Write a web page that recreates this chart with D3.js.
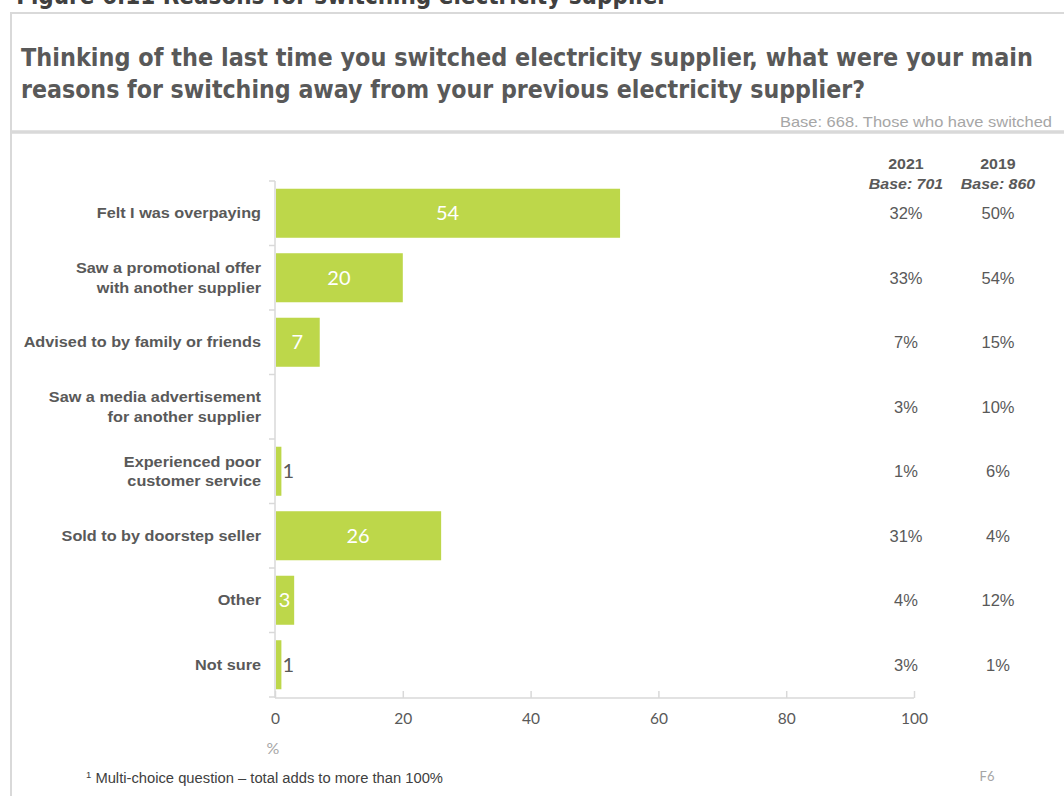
<!DOCTYPE html>
<html>
<head>
<meta charset="utf-8">
<script src="https://cdn.jsdelivr.net/npm/d3@7"></script>
<style>
  html, body { margin: 0; padding: 0; background: #ffffff; }
  svg { display: block; }
</style>
</head>
<body>
<svg id="chart" width="1064" height="796"></svg>
<script>
// Reasons for switching electricity supplier (% of switchers)
const categories = [
  ["Felt I was overpaying"],
  ["Saw a promotional offer", "with another supplier"],
  ["Advised to by family or friends"],
  ["Saw a media advertisement", "for another supplier"],
  ["Experienced poor", "customer service"],
  ["Sold to by doorstep seller"],
  ["Other"],
  ["Not sure"]
];
const values = [54, 20, 7, 0, 1, 26, 3, 1];
const values2021 = ["32%", "33%", "7%", "3%", "1%", "31%", "4%", "3%"];
const values2019 = ["50%", "54%", "15%", "10%", "6%", "4%", "12%", "1%"];
const tableHeaders = [
  { year: "2021", base: "Base: 701" },
  { year: "2019", base: "Base: 860" }
];
const xTicks = [0, 20, 40, 60, 80, 100];

const svg = d3.select("#chart");
const textDark = "#595959";
const textLight = "#a6a6a6";
const lineGrey = "#d9d9d9";
const barGreen = "#bdd74a";

// squeeze/stretch a text node to a given rendered width
function fit(sel, w) {
  sel.attr("textLength", w).attr("lengthAdjust", "spacingAndGlyphs");
  return sel;
}
// widen a text node by a factor of its natural width
function stretch(sel, k) {
  sel.each(function () {
    const w = this.getComputedTextLength();
    d3.select(this).attr("textLength", w * k).attr("lengthAdjust", "spacingAndGlyphs");
  });
  return sel;
}

// Figure caption, partly outside the page top
svg.append("text")
  .attr("x", 668).attr("y", 4)
  .attr("text-anchor", "end")
  .attr("font-family", "DejaVu Sans Condensed, DejaVu Sans")
  .attr("font-weight", "bold")
  .attr("font-size", 24)
  .attr("fill", "#404040")
  .text("Figure 6.11 Reasons for switching electricity supplier");

// Frame
svg.append("line").attr("x1", 11).attr("x2", 1064).attr("y1", 13).attr("y2", 13)
  .attr("stroke", lineGrey).attr("stroke-width", 2);
svg.append("line").attr("x1", 11).attr("x2", 11).attr("y1", 12).attr("y2", 796)
  .attr("stroke", lineGrey).attr("stroke-width", 2);
svg.append("line").attr("x1", 11).attr("x2", 1064).attr("y1", 132).attr("y2", 132)
  .attr("stroke", lineGrey).attr("stroke-width", 3.5);

// Question title
const titleLines = [
  "Thinking of the last time you switched electricity supplier, what were your main",
  "reasons for switching away from your previous electricity supplier?"
];
const titleWidths = [1012, 844];
titleLines.forEach((t, i) => {
  const el = svg.append("text")
    .attr("x", 21).attr("y", 66 + i * 32)
    .attr("font-family", "DejaVu Sans Condensed, DejaVu Sans")
    .attr("font-weight", "bold")
    .attr("font-size", 24)
    .attr("fill", textDark)
    .text(t);
  fit(el, titleWidths[i]);
});

fit(svg.append("text")
  .attr("x", 780).attr("y", 127)
  .attr("font-family", "Liberation Sans, Arial, sans-serif")
  .attr("font-size", 14.5)
  .attr("fill", textLight)
  .text("Base: 668. Those who have switched"), 272);

// Scales
const x = d3.scaleLinear().domain([0, 100]).range([275, 914]);
const yTop = 181, yBottom = 697;
const y = d3.scaleBand().domain(d3.range(categories.length))
  .range([yTop, yBottom]).paddingInner(0.24).paddingOuter(0.12);

// Category axis: line + outward ticks at band boundaries
const yAxisG = svg.append("g");
yAxisG.append("line").attr("x1", x(0)).attr("x2", x(0)).attr("y1", yTop).attr("y2", yBottom + 1)
  .attr("stroke", lineGrey).attr("stroke-width", 1.5);
const boundaries = d3.range(categories.length + 1).map(i => yTop + i * y.step());
yAxisG.selectAll("line.tick").data(boundaries).join("line")
  .attr("class", "tick")
  .attr("x1", x(0) - 6).attr("x2", x(0))
  .attr("y1", d => d).attr("y2", d => d)
  .attr("stroke", lineGrey).attr("stroke-width", 1.5);

// Value axis at the bottom, ticks pointing up into the plot
const xAxisG = svg.append("g").attr("transform", "translate(0,698)")
  .call(d3.axisBottom(x).tickValues(xTicks).tickSize(-7).tickPadding(14));
xAxisG.select(".domain").attr("stroke", lineGrey).attr("stroke-width", 1.5)
  .attr("d", `M${x(0)},0H${x(100)}`);
xAxisG.selectAll(".tick line").attr("stroke", lineGrey).attr("stroke-width", 1.5);
xAxisG.selectAll(".tick text")
  .attr("font-family", "Lato, Open Sans, sans-serif")
  .attr("font-size", 15.5)
  .attr("fill", textDark)
  .attr("dy", "0.75em");

svg.append("text")
  .attr("x", x(0) - 2).attr("y", 754)
  .attr("text-anchor", "middle")
  .attr("font-family", "Lato, Open Sans, sans-serif")
  .attr("font-size", 16)
  .attr("fill", textLight)
  .text("%");

// Bars
svg.append("g").selectAll("rect").data(values).join("rect")
  .attr("x", x(0) + 1)
  .attr("y", (d, i) => y(i))
  .attr("width", d => Math.max(0, x(d) - x(0) - 1))
  .attr("height", y.bandwidth())
  .attr("fill", barGreen)
  .attr("display", d => d > 0 ? null : "none");

// Bar value labels: white inside when the bar is wide enough, dark outside otherwise
const fitsInside = d => (x(d) - x(0)) >= 15;
svg.append("g").selectAll("text").data(values).join("text")
  .attr("x", d => fitsInside(d) ? (x(0) + x(d)) / 2 : x(d) + 7)
  .attr("y", (d, i) => y(i) + y.bandwidth() / 2)
  .attr("dy", "0.36em")
  .attr("text-anchor", "middle")
  .attr("font-family", "Lato, Open Sans, sans-serif")
  .attr("font-size", 20)
  .attr("fill", d => fitsInside(d) ? "#ffffff" : textDark)
  .attr("display", d => d > 0 ? null : "none")
  .text(d => d);

// Category labels
const catG = svg.append("g");
categories.forEach((lines, i) => {
  const cy = y(i) + y.bandwidth() / 2;
  lines.forEach((ln, j) => {
    const t = catG.append("text")
      .attr("x", 261)
      .attr("y", cy + (j - (lines.length - 1) / 2) * 19.5)
      .attr("dy", "0.36em")
      .attr("text-anchor", "end")
      .attr("font-family", "Liberation Sans, Arial, sans-serif")
      .attr("font-weight", "bold")
      .attr("font-size", 14.5)
      .attr("fill", textDark)
      .text(ln);
    stretch(t, 1.12);
  });
});

// Comparison table
const colX = [906, 998];
tableHeaders.forEach((h, c) => {
  stretch(svg.append("text")
    .attr("x", colX[c]).attr("y", 169)
    .attr("text-anchor", "middle")
    .attr("font-family", "Liberation Sans, Arial, sans-serif")
    .attr("font-weight", "bold")
    .attr("font-size", 14.5)
    .attr("fill", textDark)
    .text(h.year), 1.1);
  stretch(svg.append("text")
    .attr("x", colX[c]).attr("y", 189)
    .attr("text-anchor", "middle")
    .attr("font-family", "Liberation Sans, Arial, sans-serif")
    .attr("font-weight", "bold")
    .attr("font-style", "italic")
    .attr("font-size", 14.5)
    .attr("fill", textDark)
    .text(h.base), 1.1);
});
[values2021, values2019].forEach((col, c) => {
  svg.append("g").selectAll("text").data(col).join("text")
    .attr("x", colX[c])
    .attr("y", (d, i) => y(i) + y.bandwidth() / 2)
    .attr("dy", "0.36em")
    .attr("text-anchor", "middle")
    .attr("font-family", "Liberation Sans, Arial, sans-serif")
    .attr("font-size", 16.5)
    .attr("fill", textDark)
    .text(d => d);
});

// Footnotes
const foot = svg.append("text")
  .attr("x", 86).attr("y", 783)
  .attr("font-family", "Liberation Sans, Arial, sans-serif")
  .attr("font-size", 14)
  .attr("fill", "#404040");
foot.append("tspan").attr("font-size", 9).attr("dy", -5).text("1");
foot.append("tspan").attr("dy", 5).text(" Multi-choice question \u2013 total adds to more than 100%");
fit(foot, 357);

svg.append("text")
  .attr("x", 987).attr("y", 781)
  .attr("text-anchor", "middle")
  .attr("font-family", "Lato, Open Sans, sans-serif")
  .attr("font-size", 13)
  .attr("fill", textLight)
  .text("F6");
</script>
</body>
</html>
